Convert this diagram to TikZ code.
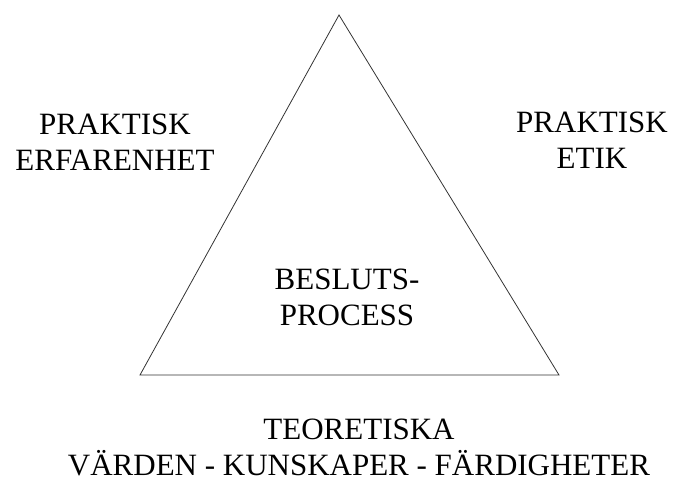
\documentclass[tikz,border=0pt]{standalone}
\usepackage{fontspec}
\setmainfont{Liberation Serif}
\newfontfamily\timesfont{Liberation Serif}
\begin{document}
\begin{tikzpicture}[x=1pt,y=-1pt,
  lbl/.style={align=center,inner sep=0pt,anchor=base,font=\timesfont\fontsize{31}{36}\selectfont},
  edge/.style={draw=black!80,line width=0.8pt,line join=miter}]
\useasboundingbox (0,0) rectangle (675,483);
\coordinate (apex) at (339,15);
\coordinate (bl) at (140,375);
\coordinate (br) at (559,375);
\draw[edge] (apex) -- (bl) -- (br) -- cycle;
\node[lbl] (left) at (115,170) {PRAKTISK\\ERFARENHET};
\node[lbl] (right) at (592,168) {PRAKTISK\\ETIK};
\node[lbl] (mid) at (347,325) {BESLUTS-\\PROCESS};
\node[lbl] (bottom) at (359,475) {TEORETISKA\\VÄRDEN - KUNSKAPER - FÄRDIGHETER};
\end{tikzpicture}
\end{document}
